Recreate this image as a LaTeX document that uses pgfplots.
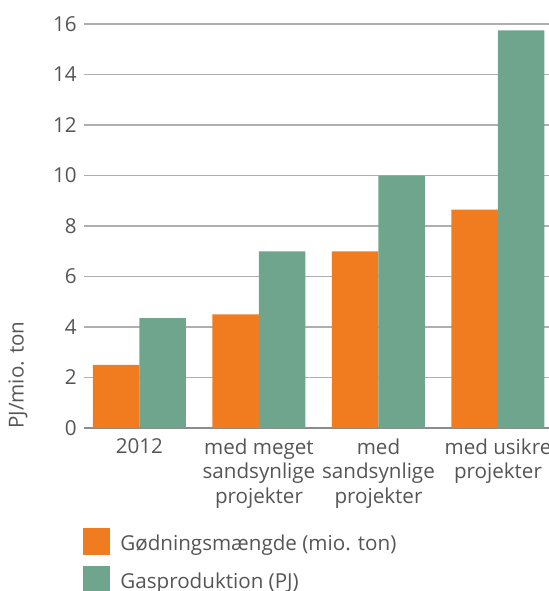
\documentclass[border=0pt]{standalone}
\usepackage{pgfplots}
\pgfplotsset{compat=1.18}
\usepackage{fontspec}
\setmainfont{Open Sans}
\definecolor{orng}{RGB}{241,124,32}
\definecolor{grn}{RGB}{111,165,140}
\definecolor{txt}{RGB}{85,85,85}
\definecolor{grd}{RGB}{175,175,175}
\begin{document}
\fontsize{10.3}{12.25}\selectfont
\begin{tikzpicture}
\useasboundingbox (-42pt,-81.5pt) rectangle (232.5pt,214pt);
\begin{axis}[
  at={(0,0)}, anchor=south west,
  scale only axis, width=232.5pt, height=202pt,
  ymin=0, ymax=16, ytick={0,2,...,16},
  xmin=-0.464, xmax=3.427,
  xtick={0,1,2,3},
  xticklabels={2012,{med meget\\sandsynlige\\projekter},{med\\sandsynlige\\projekter},{med usikre\\projekter}},
  xticklabel style={align=center, text=txt, font=\fontsize{10.3}{12.25}\selectfont, inner sep=0pt, yshift=-5pt, anchor=north},
  yticklabel style={text=txt, font=\fontsize{10.3}{12.25}\selectfont},
  /pgf/number format/assume math mode=true,
  major tick length=0pt,
  axis line style={draw=none},
  ymajorgrids, grid style={grd, line width=0.75pt},
  extra y ticks={0}, extra y tick labels={}, extra y tick style={grid style={grd!80!black, line width=0.75pt}},
  ybar=0pt, bar width=23.25pt,
  clip=false,
  ylabel={PJ/mio. ton},
  ylabel style={at={(axis description cs:-0.142,0.131)}, anchor=center, text=txt, font=\fontsize{10.3}{12.25}\selectfont},
  legend style={at={(axis description cs:0,0)}, anchor=north west, xshift=-0.5pt, yshift=-50pt, draw=none, fill=none, inner sep=0pt, row sep=5.5pt, nodes={inner xsep=5pt, inner ysep=0pt}, cells={anchor=west}, font=\fontsize{10.3}{12.25}\selectfont, text=txt, legend cell align=left},
  legend image code/.code={\fill[#1] (0pt,-5.5pt) rectangle (13.5pt,8pt);},
]
\addplot[fill=orng, draw=none] coordinates {(0,2.5) (1,4.5) (2,7.0) (3,8.65)};
\addplot[fill=grn, draw=none] coordinates {(0,4.35) (1,7.0) (2,10.0) (3,15.75)};
\legend{Gødningsmængde (mio. ton), Gasproduktion (PJ)}
\end{axis}
\end{tikzpicture}
\end{document}
